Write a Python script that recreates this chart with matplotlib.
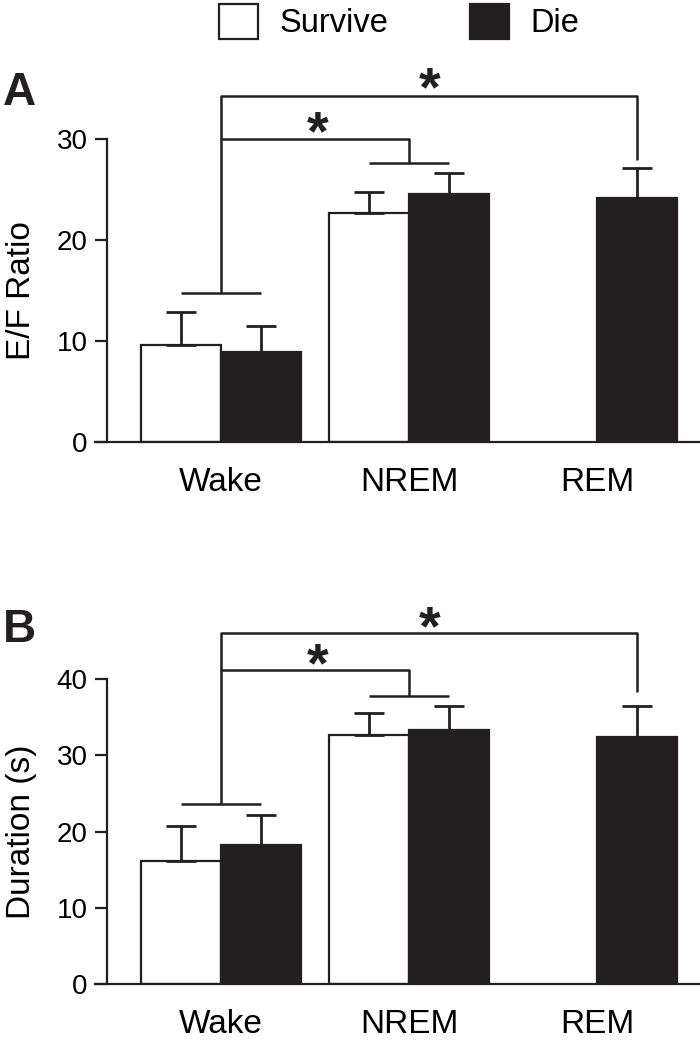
import numpy as np
import matplotlib
matplotlib.use('Agg')
import matplotlib.pyplot as plt

plt.rcParams['font.family'] = ['Liberation Sans', 'DejaVu Sans']

# data
estados = ['Wake', 'NREM', 'REM']
grupos = ['Survive', 'Die']

ef_survive = [9.6, 22.6, np.nan]
ef_survive_err = [3.3, 2.1, np.nan]
ef_die = [8.9, 24.5, 24.1]
ef_die_err = [2.6, 2.1, 3.0]

dur_survive = [16.1, 32.7, np.nan]
dur_survive_err = [4.6, 2.9, np.nan]
dur_die = [18.2, 33.3, 32.4]
dur_die_err = [4.0, 3.2, 4.1]

ink = '#231f20'
largura = 0.425
x = np.arange(len(estados))


def painel(ax, surv, surv_err, die, die_err, ymax_spine, ylim_top, ylabel, label_y, br):
    b1 = ax.bar(x - largura / 2, surv, largura, color='white', edgecolor=ink, linewidth=1.6)
    b2 = ax.bar(x + largura / 2, die, largura, color=ink, edgecolor=ink, linewidth=1.6)
    ax.errorbar(x - largura / 2, surv, yerr=[np.zeros(3), surv_err], fmt='none',
                ecolor=ink, elinewidth=2, capsize=10.8, capthick=2)
    ax.errorbar(x + largura / 2, die, yerr=[np.zeros(3), die_err], fmt='none',
                ecolor=ink, elinewidth=2, capsize=10.8, capthick=2)

    ax.set_xlim(-0.670, 2.548)
    ax.set_ylim(0, ylim_top)
    for s in ['top', 'right']:
        ax.spines[s].set_visible(False)
    ax.spines['left'].set_position(('data', -0.606))
    ax.spines['left'].set_bounds(0, ymax_spine)
    ax.spines['left'].set_linewidth(1.6)
    ax.spines['bottom'].set_linewidth(1.6)
    ax.spines['left'].set_color(ink)
    ax.spines['bottom'].set_color(ink)
    ax.set_yticks(np.arange(0, ymax_spine + 1, 10))
    ax.tick_params(axis='y', length=8.6, width=1.6, pad=5.5, labelsize=20, color=ink)
    ax.set_xticks(x)
    ax.set_xticklabels(estados)
    ax.tick_params(axis='x', length=0, pad=18, labelsize=24)
    ax.set_ylabel(ylabel, fontsize=24)
    ax.yaxis.set_label_coords(-0.096, label_y)

    # brackets de significância
    kw = dict(color=ink, lw=1.8, clip_on=False, solid_capstyle='butt')
    ax.plot([-largura / 2, largura / 2], [br['wake'], br['wake']], **kw)
    ax.plot([1 - largura / 2, 1 + largura / 2], [br['nrem'], br['nrem']], **kw)
    ax.plot([0, 0, 1, 1], [br['wake'], br['l1'], br['l1'], br['nrem']], **kw)
    ax.plot([0, 0, 2 + largura / 2, 2 + largura / 2], [br['l1'], br['l2'], br['l2'], br['rem']], **kw)
    ax.text(0.516, br['l1'] + br['ast'], '*', ha='center', va='baseline', fontsize=40,
            fontweight='bold', color=ink)
    ax.text(1.11, br['l2'] + br['ast'], '*', ha='center', va='baseline', fontsize=40,
            fontweight='bold', color=ink)
    return b1, b2


fig = plt.figure(figsize=(7, 10.45), dpi=100)
axA = fig.add_axes([95 / 700, 1 - 442 / 1045, 605 / 700, (442 - 78) / 1045])
axB = fig.add_axes([95 / 700, 1 - 984 / 1045, 605 / 700, (984 - 603) / 1045])

hs = painel(axA, ef_survive, ef_survive_err, ef_die, ef_die_err, 30, 36, 'E/F Ratio', 15 / 36,
            dict(wake=14.75, nrem=27.6, l1=30.0, l2=34.26, rem=27.9, ast=-1.0))
painel(axB, dur_survive, dur_survive_err, dur_die, dur_die_err, 40, 50, 'Duration (s)', 20 / 50,
       dict(wake=23.6, nrem=37.8, l1=41.2, l2=46.1, rem=38.3, ast=-1.5))

fig.text(3 / 700, 1 - 105 / 1045, 'A', fontsize=33, fontweight='bold', va='baseline', color=ink)
fig.text(3 / 700, 1 - 642 / 1045, 'B', fontsize=33, fontweight='bold', va='baseline', color=ink)

fig.legend(hs, grupos, loc='upper center', bbox_to_anchor=(399 / 700, 1.012), ncol=2,
           frameon=False, fontsize=23.5, handlelength=1.2, handleheight=1.28,
           handletextpad=0.65, columnspacing=2.5, borderpad=0)

fig.savefig('out.png', dpi=100)
